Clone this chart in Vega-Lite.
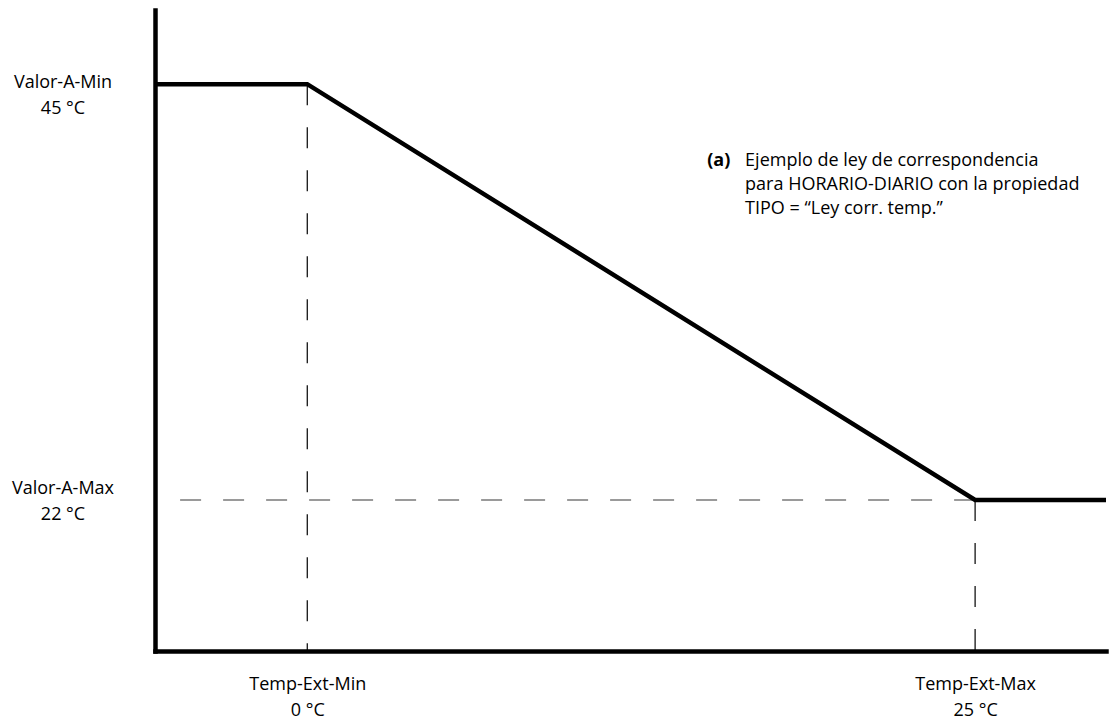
{
  "$schema": "https://vega.github.io/schema/vega-lite/v6.json",
  "width": 951,
  "height": 641,
  "autosize": {"type": "none"},
  "padding": {"left": 155, "top": 10, "right": 6, "bottom": 73},
  "background": "white",
  "config": {"view": {"stroke": null}, "font": "Open Sans"},
  "layer": [
    {
      "data": {"values": [
        {"t": 0, "v": 45, "v2": 13.65},
        {"t": 25, "v": 22, "v2": 13.65}
      ]},
      "mark": {"type": "rule", "color": "black", "strokeWidth": 1.2, "strokeDash": [21, 22]},
      "encoding": {
        "x": {"field": "t", "type": "quantitative", "scale": {"domain": [-5.7, 29.9], "nice": false, "zero": false},
          "axis": {"values": [0, 25], "title": null, "grid": false, "ticks": false, "tickSize": 0, "domain": true, "domainColor": "black", "domainWidth": 4.5, "domainCap": "square",
            "labelExpr": "datum.value == 0 ? ['Temp-Ext-Min', '0 °C'] : ['Temp-Ext-Max', '25 °C']",
            "labelFont": "Open Sans", "labelFontSize": 18, "labelColor": "black", "labelAlign": "center", "labelBaseline": "alphabetic", "labelPadding": 38, "labelLineHeight": 26, "labelOverlap": false, "labelFlush": false}},
        "y": {"field": "v", "type": "quantitative", "scale": {"domain": [13.65, 49.1], "nice": false, "zero": false},
          "axis": {"values": [45, 22], "title": null, "grid": false, "ticks": false, "tickSize": 0, "domain": true, "domainColor": "black", "domainWidth": 4.5, "domainCap": "square",
            "labelExpr": "datum.value == 45 ? ['Valor-A-Min', '45 °C'] : ['Valor-A-Max', '22 °C']",
            "labelFont": "Open Sans", "labelFontSize": 18, "labelColor": "black", "labelAlign": "center", "labelBaseline": "alphabetic", "labelPadding": 92.5, "labelLineHeight": 26, "labelOverlap": false, "labelFlush": false,
            "labelOffset": {"condition": {"test": "datum.value == 45", "value": 3}, "value": -7}}},
        "y2": {"field": "v2"}
      }
    },
    {
      "data": {"values": [{"t": 25, "t2": -5.4, "v": 22}]},
      "mark": {"type": "rule", "color": "#7a7a7a", "strokeWidth": 1.5, "strokeDash": [21, 22]},
      "encoding": {
        "x": {"field": "t", "type": "quantitative"},
        "x2": {"field": "t2"},
        "y": {"field": "v", "type": "quantitative"}
      }
    },
    {
      "data": {"values": [
        {"t": -5.7, "v": 45},
        {"t": 0, "v": 45},
        {"t": 25, "v": 22},
        {"t": 29.9, "v": 22}
      ]},
      "mark": {"type": "line", "color": "black", "strokeWidth": 4.5, "strokeJoin": "miter", "clip": false},
      "encoding": {
        "x": {"field": "t", "type": "quantitative"},
        "y": {"field": "v", "type": "quantitative"}
      }
    },
    {
      "data": {"values": [{"t": 14.97, "v": 40.47, "label": "(a)"}]},
      "mark": {"type": "text", "align": "left", "baseline": "alphabetic", "font": "Open Sans", "fontSize": 18, "fontWeight": "bold", "color": "black"},
      "encoding": {
        "x": {"field": "t", "type": "quantitative"},
        "y": {"field": "v", "type": "quantitative"},
        "text": {"field": "label", "type": "nominal"}
      }
    },
    {
      "data": {"values": [{"t": 16.39, "v": 40.47, "label": ["Ejemplo de ley de correspondencia", "para HORARIO-DIARIO con la propiedad", "TIPO = “Ley corr. temp.”"]}]},
      "mark": {"type": "text", "align": "left", "baseline": "alphabetic", "font": "Open Sans", "fontSize": 18, "lineHeight": 24, "color": "black"},
      "encoding": {
        "x": {"field": "t", "type": "quantitative"},
        "y": {"field": "v", "type": "quantitative"},
        "text": {"field": "label", "type": "nominal"}
      }
    }
  ]
}
